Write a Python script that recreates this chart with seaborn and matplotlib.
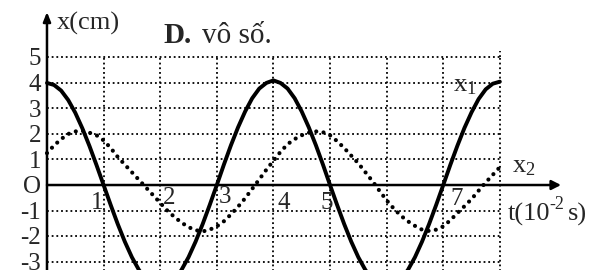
import numpy as np
import matplotlib
matplotlib.use("Agg")
import matplotlib.pyplot as plt
import seaborn as sns

# time samples (10^-2 s) and curve values (cm)
t = np.arange(0, 8.001, 0.125)
x1 = [4.0, 3.92, 3.7, 3.33, 2.83, 2.22, 1.53, 0.78, 0.0,
      -0.78, -1.53, -2.22, -2.83, -3.33, -3.7, -3.92, -4.0,
      -3.92, -3.7, -3.33, -2.83, -2.22, -1.53, -0.78, 0.0,
      0.8, 1.56, 2.26, 2.88, 3.4, 3.78, 4.0, 4.1,
      4.0, 3.78, 3.4, 2.88, 2.26, 1.56, 0.8, 0.0,
      -0.78, -1.53, -2.22, -2.83, -3.33, -3.7, -3.92, -4.0,
      -3.92, -3.7, -3.33, -2.83, -2.22, -1.53, -0.78, 0.0,
      0.79, 1.54, 2.24, 2.85, 3.37, 3.75, 3.97, 4.05]
x2 = [1.25, 1.55, 1.8, 2.0, 2.1, 2.12, 2.05, 1.95, 1.75,
      1.45, 1.1, 0.8, 0.5, 0.2, -0.1, -0.4, -0.7,
      -1.0, -1.25, -1.47, -1.65, -1.77, -1.82, -1.75, -1.62,
      -1.42, -1.15, -0.85, -0.52, -0.15, 0.22, 0.6, 0.95,
      1.3, 1.6, 1.8, 1.95, 2.05, 2.1, 2.07, 1.95,
      1.72, 1.45, 1.15, 0.85, 0.5, 0.15, -0.23, -0.6,
      -0.92, -1.2, -1.42, -1.6, -1.75, -1.8, -1.75, -1.62,
      -1.38, -1.1, -0.83, -0.55, -0.22, 0.1, 0.4, 0.7]

# grid levels and labels
y_grid = [-3, -2, -1, 1, 2, 3, 4, 5]
t_grid = [1, 2, 3, 4, 5, 6, 7, 8]
y_labels = ["5", "4", "3", "2", "1", "O", "-1", "-2", "-3"]
y_label_pos = [5, 4, 3, 2, 1, 0, -1, -2, -3]
t_labels = ["1", "2", "3", "4", "5", "7"]
t_label_pos = [(0.88, -0.7), (2.16, -0.5), (3.14, -0.47), (4.19, -0.7), (4.95, -0.7), (7.24, -0.55)]

sns.set_style("white")
plt.rcParams['font.family'] = ['Liberation Serif', 'DejaVu Serif']
plt.rcParams['mathtext.fontset'] = 'custom'
plt.rcParams['mathtext.rm'] = 'Liberation Serif'
plt.rcParams['mathtext.it'] = 'Liberation Serif:italic'

fig = plt.figure(figsize=(5.91, 2.70), dpi=100)
ax = fig.add_axes([0, 0, 1, 1])
ax.set_xlim(-0.83, 9.61)
ax.set_ylim(-3.33, 7.25)
ax.axis("off")

# dotted grid
dot = (0, (1, 1.6))
ax.hlines(y_grid, 0, 8, colors="k", lw=1.3, linestyles=[dot])
ax.vlines(t_grid, -3.4, 5, colors="k", lw=1.3, linestyles=[dot])
ax.vlines([8], 5, 5.25, colors="k", lw=1.3, linestyles=[dot])

# curves
sns.lineplot(x=t, y=x1, ax=ax, color="k", lw=2.8, solid_capstyle="round")
sns.lineplot(x=t, y=x2, ax=ax, color="k", lw=3.0,
             linestyle=(0, (0.01, 1.75)), dash_capstyle="round")

# axes with arrows
ax.annotate("", xy=(9.08, 0), xytext=(0, 0),
            arrowprops=dict(arrowstyle="-|>,head_length=0.55,head_width=0.28",
                            lw=1.8, color="k", shrinkA=0, shrinkB=0))
ax.annotate("", xy=(0, 6.78), xytext=(0, -3.4),
            arrowprops=dict(arrowstyle="-|>,head_length=0.55,head_width=0.22",
                            lw=1.8, color="k", shrinkA=0, shrinkB=0))

# tick labels
for lab, y in zip(y_labels, y_label_pos):
    ax.text(-0.1, y - 0.08, lab, ha="right", va="center", fontsize=18)
for lab, (tx, ty) in zip(t_labels, t_label_pos):
    ax.text(tx, ty, lab, ha="center", va="center", fontsize=18)

# annotations
ax.text(0.18, 6.1, "x(cm)", ha="left", va="baseline", fontsize=19)
ax.text(2.05, 5.57, "D.", ha="left", va="baseline", fontsize=21, fontweight="bold")
ax.text(2.74, 5.57, "vô số.", ha="left", va="baseline", fontsize=21)
ax.text(7.17, 3.65, r"x$_{\mathrm{1}}$", ha="left", va="baseline", fontsize=19)
ax.text(8.22, 0.5, r"x$_{\mathrm{2}}$", ha="left", va="baseline", fontsize=19)
ax.text(8.13, -1.41, "t(10", ha="left", va="baseline", fontsize=19)
ax.text(8.88, -0.95, "-2", ha="left", va="baseline", fontsize=13)
ax.text(9.2, -1.41, "s)", ha="left", va="baseline", fontsize=19)

fig.savefig("out.png", dpi=100)
